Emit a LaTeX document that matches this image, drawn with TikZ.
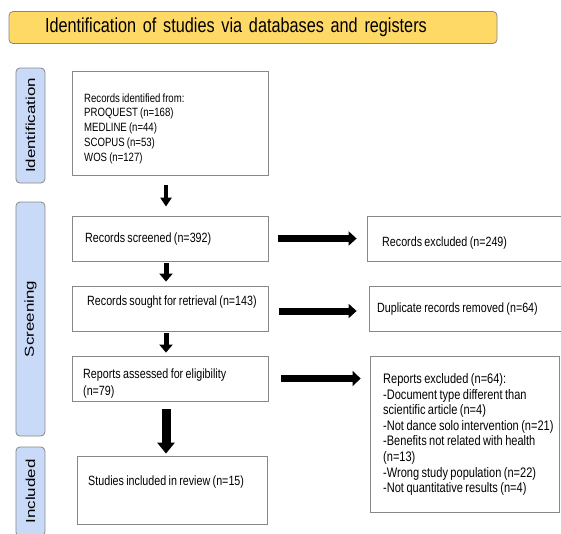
\documentclass[tikz,border=0pt]{standalone}
\usepackage{fontspec}
\setmainfont{Liberation Sans}[FakeStretch=0.8, WordSpace=0.8]
\newfontfamily\stagefont{Liberation Sans}[FakeStretch=1.3]
\usetikzlibrary{arrows.meta}
\definecolor{titlefill}{HTML}{FFD966}
\definecolor{stagefill}{HTML}{C9DAF8}
\definecolor{edgegray}{HTML}{888888}

\begin{document}
\begin{tikzpicture}[x=1pt, y=-1pt,
    headbox/.style={draw=edgegray, line width=0.8pt, fill=titlefill, rounded corners=4pt,
        minimum height=32pt, text width=416pt, inner xsep=36pt, align=left,
        font=\fontsize{20.3}{24}\selectfont},
    stagebox/.style={draw=edgegray, line width=0.8pt, fill=stagefill, rounded corners=4pt,
        rotate=90, minimum height=29pt, inner sep=0pt, font=\stagefont\fontsize{13}{15}\selectfont},
    recbox/.style={draw=edgegray, line width=0.8pt, fill=white, inner sep=0pt},
    rectext/.style={inner sep=0pt, align=left, font=\fontsize{13.4}{17}\selectfont},
    flow/.style={draw=black, line width=5pt, -{Triangle[width=13pt,length=8pt]}}]
    \clip (0,0) rectangle (561,533);

    \node[headbox] (head) at (253,27.5) {Identification of studies via databases and registers};

    \node[stagebox, minimum width=115pt] (stageid) at (30.4,125.5) {Identification};
    \node[stagebox, minimum width=234pt] (stagescr) at (30.4,319) {Screening};
    \node[stagebox, minimum width=89pt] (stageinc) at (30.4,491.5) {Included};

    \node[recbox, minimum width=196pt, minimum height=104pt] (ident) at (170,123) {};
    \node[recbox, minimum width=196pt, minimum height=45pt] (screen) at (170,238.5) {};
    \node[recbox, minimum width=196pt, minimum height=45pt] (sought) at (170,308.5) {};
    \node[recbox, minimum width=196pt, minimum height=45pt] (assess) at (170,378.5) {};
    \node[recbox, minimum width=190pt, minimum height=68pt] (incl) at (172,490) {};
    \node[recbox, minimum width=220pt, minimum height=45pt] (excl) at (477,238.5) {};
    \node[recbox, minimum width=220pt, minimum height=45pt] (dupl) at (479,308.5) {};
    \node[recbox, minimum width=189pt, minimum height=156pt] (rexcl) at (464.5,434) {};

    \node[rectext, anchor=west, font=\fontsize{12}{14.75}\selectfont] (identtxt) at (84,128.5)
        {Records identified from:\\PROQUEST (n=168)\\MEDLINE (n=44)\\SCOPUS (n=53)\\WOS (n=127)};
    \node[rectext, anchor=base west] (screentxt) at (85,242.8) {Records screened (n=392)};
    \node[rectext, anchor=base west] (soughttxt) at (87,305) {Records sought for retrieval (n=143)};
    \node[rectext, anchor=west] (assesstxt) at (83,383.5) {Reports assessed for eligibility\\(n=79)};
    \node[rectext, anchor=base west] (incltxt) at (88,485) {Studies included in review (n=15)};
    \node[rectext, anchor=base west] (excltxt) at (382,246) {Records excluded (n=249)};
    \node[rectext, anchor=base west] (dupltxt) at (377,312) {Duplicate records removed (n=64)};
    \node[rectext, anchor=west, font=\fontsize{13.8}{15.6}\selectfont] (rexcltxt) at (383,434.5)
        {Reports excluded (n=64):\\-Document type different than\\scientific article (n=4)\\-Not dance solo intervention (n=21)\\-Benefits not related with health\\(n=13)\\-Wrong study population (n=22)\\-Not quantitative results (n=4)};

    \draw[flow, line width=4pt, -{Triangle[width=11pt,length=9pt]}, shorten <=10pt, shorten >=9pt]
        ([xshift=-4pt]ident.south) -- ([xshift=-4pt]screen.north);
    \draw[flow, shorten <=2pt, shorten >=4pt] ([xshift=-4pt]screen.south) -- ([xshift=-4pt]sought.north);
    \draw[flow, shorten <=2pt, shorten >=3pt] ([xshift=-4pt]sought.south) -- ([xshift=-4pt]assess.north);
    \draw[flow, line width=9pt, -{Triangle[width=17pt,length=11pt]}, shorten <=8pt, shorten >=2pt]
        ([xshift=-4pt]assess.south) -- ([xshift=-4pt]assess.south |- incl.north);
    \draw[flow, line width=7pt, -{Triangle[width=14pt,length=8pt]}, shorten <=10pt, shorten >=10pt]
        (screen.east) -- (excl.west);
    \draw[flow, line width=7pt, -{Triangle[width=14pt,length=8pt]}, shorten <=11pt, shorten >=12pt]
        ([yshift=-2.5pt]sought.east) -- ([yshift=-2.5pt]sought.east -| dupl.west);
    \draw[flow, line width=7pt, -{Triangle[width=15pt,length=8pt]}, shorten <=13pt, shorten >=9pt]
        (assess.east) -- (assess.east -| rexcl.west);
\end{tikzpicture}
\end{document}
